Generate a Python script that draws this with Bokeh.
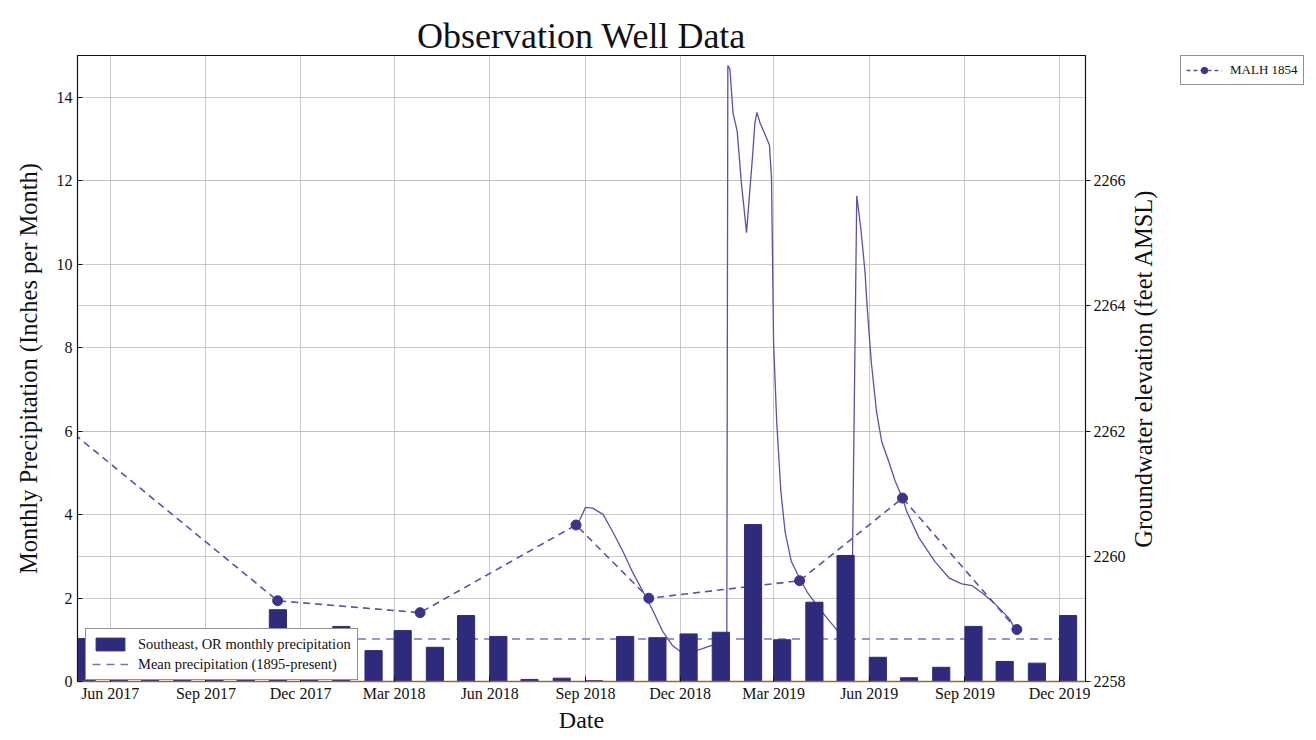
import math
from datetime import datetime
import pandas as pd
from bokeh.plotting import figure
from bokeh.layouts import row
from bokeh.models import (Range1d, LinearAxis, FixedTicker, MonthsTicker,
                          DatetimeTickFormatter, Grid, Legend, LegendItem,
                          ColumnDataSource, Label)
from bokeh.embed import file_html
from bokeh.resources import INLINE

# ---------------- data ----------------
precip_months = ["2017-05", "2017-06", "2017-07", "2017-08", "2017-09", "2017-10",
                 "2017-11", "2017-12", "2018-01", "2018-02", "2018-03", "2018-04",
                 "2018-05", "2018-06", "2018-07", "2018-08", "2018-09", "2018-10",
                 "2018-11", "2018-12", "2019-01", "2019-02", "2019-03", "2019-04",
                 "2019-05", "2019-06", "2019-07", "2019-08", "2019-09", "2019-10",
                 "2019-11", "2019-12"]
precip_inches = [1.03, 0.80, 0.08, 0.50, 0.60, 0.90,
                 1.72, 1.10, 1.32, 0.74, 1.22, 0.82,
                 1.58, 1.08, 0.05, 0.08, 0.02, 1.08,
                 1.05, 1.14, 1.18, 3.76, 1.00, 1.90,
                 3.02, 0.58, 0.09, 0.34, 1.32, 0.48,
                 0.44, 1.58]

mean_precip_dates = ["2017-05-01", "2019-12-01"]
mean_precip_values = [1.02, 1.02]

gw_meas_dates = ["2017-04-01", "2017-11-09", "2018-03-26", "2018-08-23",
                 "2018-11-01", "2019-03-26", "2019-07-03", "2019-10-21"]
gw_meas_values = [2262.31, 2259.29, 2259.10, 2260.50,
                  2259.33, 2259.61, 2260.93, 2258.83]

gw_cont_dates = ["2018-08-26", "2018-09-01", "2018-09-08", "2018-09-18", "2018-09-27",
                 "2018-10-07", "2018-10-16", "2018-10-26", "2018-11-05", "2018-11-14",
                 "2018-11-24", "2018-12-03", "2018-12-13", "2018-12-22", "2018-12-30",
                 "2019-01-07", "2019-01-15", "2019-01-16", "2019-01-18", "2019-01-21",
                 "2019-01-25", "2019-01-29", "2019-02-03", "2019-02-06", "2019-02-09",
                 "2019-02-11", "2019-02-13", "2019-02-16", "2019-02-21", "2019-02-25",
                 "2019-02-27", "2019-03-01", "2019-03-04", "2019-03-08", "2019-03-12",
                 "2019-03-18", "2019-03-26", "2019-04-03", "2019-04-12", "2019-04-22",
                 "2019-04-30", "2019-05-09", "2019-05-15", "2019-05-20", "2019-05-24",
                 "2019-05-28", "2019-05-30", "2019-06-03", "2019-06-08", "2019-06-13",
                 "2019-06-19", "2019-06-26", "2019-07-03", "2019-07-07", "2019-07-19",
                 "2019-08-03", "2019-08-17", "2019-08-29", "2019-09-08", "2019-09-18",
                 "2019-09-30", "2019-10-14", "2019-10-19"]
gw_cont_values = [2260.56, 2260.78, 2260.77, 2260.67, 2260.40,
                  2260.08, 2259.76, 2259.45, 2259.13, 2258.81,
                  2258.57, 2258.46, 2258.48, 2258.52, 2258.57,
                  2258.60, 2258.65, 2267.84, 2267.78, 2267.08,
                  2266.79, 2265.97, 2265.17, 2265.81, 2266.44,
                  2266.92, 2267.09, 2266.92, 2266.73, 2266.57,
                  2266.04, 2263.42, 2262.15, 2261.04, 2260.40,
                  2259.92, 2259.65, 2259.41, 2259.21, 2259.00,
                  2258.84, 2258.65, 2258.72, 2265.76, 2265.22,
                  2264.53, 2263.98, 2263.10, 2262.31, 2261.83,
                  2261.55, 2261.20, 2260.93, 2260.72, 2260.29,
                  2259.92, 2259.65, 2259.56, 2259.53, 2259.41,
                  2259.24, 2259.00, 2258.84]

left_ticks = [0, 2, 4, 6, 8, 10, 12, 14]
right_ticks = [2258, 2260, 2262, 2264, 2266]

# ---------------- style ----------------
SERIF = "Liberation Serif"
BAR_COLOR = "#2f2b7c"
GW_COLOR = "#5753a6"
MEAN_COLOR = "#7773c0"
DAY_MS = 86400000
BAR_DAYS = 16.5
H = 738

bar_left = pd.to_datetime(precip_months, format="%Y-%m")
bar_src = ColumnDataSource(dict(
    x=bar_left + pd.Timedelta(days=BAR_DAYS / 2),
    top=precip_inches))

p = figure(width=1130, height=H, x_axis_type="datetime",
           x_range=Range1d(datetime(2017, 4, 30, 12), datetime(2019, 12, 26)),
           y_range=Range1d(0, 15),
           output_backend="svg", toolbar_location=None,
           min_border_left=77, min_border_right=45,
           min_border_top=55, min_border_bottom=57,
           background_fill_color="white", border_fill_color="white")

p.title.text = "Observation Well Data"
p.title.align = "center"
p.title.text_font = SERIF
p.title.text_font_size = "36px"
p.title.text_font_style = "normal"
p.title.text_color = "#111111"
p.title.standoff = 0

p.outline_line_color = "#111111"
p.outline_line_width = 1.2

p.extra_y_ranges = {"gw": Range1d(2258, 2268)}

# groundwater continuous record (drawn first: bars overlay it)
p.line(pd.to_datetime(gw_cont_dates), gw_cont_values, y_range_name="gw",
       line_color=GW_COLOR, line_width=1.3)
# mean precipitation
mean_line = p.line(pd.to_datetime(mean_precip_dates), mean_precip_values,
                   line_color=MEAN_COLOR, line_width=1.5, line_dash="8 6")
# groundwater measurements
p.line(pd.to_datetime(gw_meas_dates), gw_meas_values, y_range_name="gw",
       line_color=GW_COLOR, line_width=1.6, line_dash="7 5")
p.scatter(pd.to_datetime(gw_meas_dates), gw_meas_values, y_range_name="gw",
          size=10, fill_color="#3a358a", line_color="#3a358a")
# precipitation bars
bars = p.vbar(x="x", top="top", width=BAR_DAYS * DAY_MS, bottom=0, source=bar_src,
              fill_color=BAR_COLOR, line_color=BAR_COLOR)

# ---------------- axes ----------------
p.xaxis.ticker = MonthsTicker(months=[2, 5, 8, 11])
p.xaxis.formatter = DatetimeTickFormatter(months="%b %Y", days="%b %Y")
p.xaxis.axis_label = "Date"
p.yaxis.ticker = FixedTicker(ticks=left_ticks)
p.yaxis.axis_label = "Monthly Precipitation (Inches per Month)"

right = LinearAxis(y_range_name="gw", ticker=FixedTicker(ticks=right_ticks))
p.add_layout(right, "right")

for ax in [p.xaxis[0], p.yaxis[0], right]:
    ax.major_label_text_font = SERIF
    ax.major_label_text_font_size = "16px"
    ax.major_label_text_color = "#111111"
    ax.axis_label_text_font = SERIF
    ax.axis_label_text_font_size = "24.5px"
    ax.axis_label_text_font_style = "normal"
    ax.axis_label_text_color = "#111111"
    ax.minor_tick_line_color = None
    ax.major_tick_in = 5
    ax.major_tick_out = 0
    ax.major_tick_line_color = "#111111"
    ax.axis_line_color = "#111111"
p.xaxis.axis_label_text_font_size = "24px"
p.xaxis.axis_line_color = "#a0643c"
p.xaxis.axis_line_width = 1.5
p.xaxis.major_label_standoff = 3
p.xaxis.axis_label_standoff = 2
p.yaxis.axis_label_standoff = 12
right.major_tick_in = 0
right.major_tick_out = 5
right.major_label_standoff = 3

p.xgrid.grid_line_color = "#bdbdbd"
p.xgrid.grid_line_width = 0.8
p.ygrid.grid_line_color = "#bdbdbd"
p.ygrid.grid_line_width = 0.8
p.add_layout(Grid(dimension=1, ticker=right.ticker, y_range_name="gw",
                  grid_line_color="#bdbdbd", grid_line_width=0.8))

# ---------------- legend inside the plot ----------------
leg1 = Legend(items=[
    LegendItem(label="Southeast, OR monthly precipitation", renderers=[bars]),
    LegendItem(label="Mean precipitation (1895-present)", renderers=[mean_line])],
    location=(8, 1))


def blank_panel(w, top=55, left=0):
    f = figure(width=w, height=H, x_range=Range1d(0, 1), y_range=Range1d(0, 1),
               output_backend="svg", toolbar_location=None,
               x_axis_location=None, y_axis_location=None,
               min_border_left=left, min_border_right=0,
               min_border_top=top, min_border_bottom=57,
               outline_line_color=None, background_fill_color="white",
               border_fill_color="white")
    f.xgrid.visible = False
    f.ygrid.visible = False
    return f


# ---------------- right axis title (reads bottom-to-top) ----------------
# the row aligns the frames: frame bottom is at the main plot's frame bottom
side1 = blank_panel(42)
side1.add_layout(Label(x=13, y=313, x_units="screen", y_units="screen",
                       text="Groundwater elevation (feet AMSL)", angle=math.pi / 2,
                       text_align="center", text_baseline="middle",
                       text_font=SERIF, text_font_size="24.5px",
                       text_color="#111111"))

# ---------------- well legend ----------------
side2 = blank_panel(142, left=8)
# legend-key helpers, kept outside the visible 0..1 range of this panel
k_dash = side2.line(x=[5, 6], y=[5, 5], line_color=GW_COLOR, line_width=1.6,
                    line_dash="4 3")
k_pts = side2.scatter(x=[5], y=[5], size=9, fill_color="#3a358a",
                      line_color="#3a358a")
leg2 = Legend(items=[LegendItem(label="MALH 1854", renderers=[k_dash, k_pts])],
              location="top_left")

for lg in (leg1, leg2):
    lg.label_text_font = SERIF
    lg.label_text_font_size = "14.5px"
    lg.label_text_color = "#111111"
    lg.border_line_color = "#222222"
    lg.border_line_width = 1
    lg.background_fill_color = "white"
    lg.background_fill_alpha = 1.0
    lg.padding = 6
    lg.spacing = 2
    lg.margin = 0
    lg.glyph_width = 36
    lg.glyph_height = 16
    lg.label_height = 18
    lg.label_standoff = 10
leg2.label_text_font_size = "13px"
leg2.glyph_width = 36
leg2.padding = 5
leg2.label_standoff = 8
p.add_layout(leg1)
side2.add_layout(leg2)

layout = row(p, side1, side2, spacing=0)
open("out.html", "w").write(file_html(layout, INLINE))
